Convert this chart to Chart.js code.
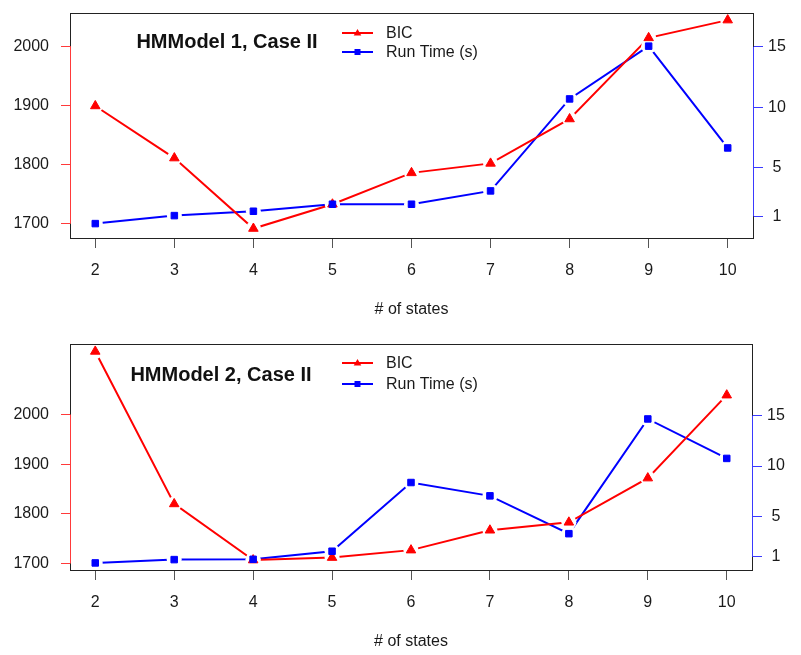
<!DOCTYPE html>
<html>
<head>
<meta charset="utf-8">
<script src="https://cdn.jsdelivr.net/npm/chart.js@4"></script>
<style>
  html, body { margin: 0; padding: 0; background: #fff; }
  .panel { position: absolute; left: 0; width: 801px; }
</style>
</head>
<body>
<div class="panel" style="top:0"><canvas id="chart1" width="801" height="327"></canvas></div>
<div class="panel" style="top:327px"><canvas id="chart2" width="801" height="328"></canvas></div>
<script>
// values
const states = [2, 3, 4, 5, 6, 7, 8, 9, 10];
const bic1 = [1899, 1811, 1692, 1733, 1786, 1802, 1877, 2014, 2044];
const runTime1 = [0.4, 1.06, 1.42, 2.0, 2.0, 3.1, 10.7, 15.06, 6.65];
const bic2 = [2127, 1820, 1707, 1712, 1727, 1767, 1783, 1872, 2039];
const runTime2 = [0.4, 0.73, 0.76, 1.56, 8.37, 7.05, 3.3, 14.67, 10.76];
const bicTicks = [1700, 1800, 1900, 2000];
const timeTicks = [1, 5, 10, 15];
const seriesNames = ['BIC', 'Run Time (s)'];

Chart.defaults.font.family = '"Liberation Sans", Arial, sans-serif';
Chart.defaults.font.size = 16;
Chart.defaults.color = '#1a1a1a';

const RED = '#ff0000';
const BLUE = '#0000ff';

// box, coloured axis lines, title and legend like base R plots
const rPanel = {
  id: 'rPanel',
  afterDatasetsDraw(chart) {
    const ctx = chart.ctx;
    const metas = chart.data.datasets.map((d, i) => chart.getDatasetMeta(i));
    // gaps around the points (type = "b")
    ctx.save();
    ctx.fillStyle = '#fff';
    metas.forEach(meta => {
      meta.data.forEach(pt => {
        ctx.beginPath();
        ctx.arc(pt.x, pt.y, 7.5, 0, Math.PI * 2);
        ctx.fill();
      });
    });
    ctx.restore();
    metas.forEach(meta => {
      meta.data.forEach(pt => pt.draw(ctx, chart.chartArea));
    });
  },
  afterDraw(chart, args, opts) {
    const ctx = chart.ctx;
    const a = chart.chartArea;
    const yL = chart.scales.y;
    const yR = chart.scales.y1;

    ctx.save();
    ctx.strokeStyle = '#222';
    ctx.lineWidth = 1;
    ctx.strokeRect(Math.round(a.left) + 0.5, Math.round(a.top) + 0.5,
      Math.round(a.right - a.left), Math.round(a.bottom - a.top));

    ctx.strokeStyle = '#ff3a3a';
    ctx.beginPath();
    ctx.moveTo(Math.round(a.left) + 0.5, yL.getPixelForValue(bicTicks[0]));
    ctx.lineTo(Math.round(a.left) + 0.5, yL.getPixelForValue(bicTicks[bicTicks.length - 1]));
    ctx.stroke();

    ctx.strokeStyle = '#3a3aff';
    ctx.beginPath();
    ctx.moveTo(Math.round(a.right) + 0.5, yR.getPixelForValue(timeTicks[0]));
    ctx.lineTo(Math.round(a.right) + 0.5, yR.getPixelForValue(timeTicks[timeTicks.length - 1]));
    ctx.stroke();

    // title
    ctx.fillStyle = '#111';
    ctx.font = 'bold 20px "Liberation Sans", Arial, sans-serif';
    ctx.textAlign = 'center';
    ctx.textBaseline = 'middle';
    ctx.fillText(opts.title, opts.titleX, opts.titleY);

    // legend
    ctx.font = '16px "Liberation Sans", Arial, sans-serif';
    ctx.textAlign = 'left';
    chart.data.datasets.forEach((ds, i) => {
      const y = opts.legendY[i];
      ctx.strokeStyle = ds.borderColor;
      ctx.lineWidth = 2;
      ctx.beginPath();
      ctx.moveTo(opts.legendX, y);
      ctx.lineTo(opts.legendX + 31, y);
      ctx.stroke();
      const cx = opts.legendX + 15.5;
      ctx.fillStyle = ds.borderColor;
      ctx.beginPath();
      if (ds.pointStyle === 'triangle') {
        ctx.moveTo(cx, y - 4);
        ctx.lineTo(cx + 3.8, y + 2.4);
        ctx.lineTo(cx - 3.8, y + 2.4);
        ctx.closePath();
      } else {
        ctx.rect(cx - 3, y - 3, 6, 6);
      }
      ctx.fill();
      ctx.fillStyle = '#1a1a1a';
      ctx.fillText(ds.label, opts.legendX + 44, y + 1);
    });
    ctx.restore();
  }
};

const plainNumber = v => String(v);

function makePanel(id, bic, runTime, cfg) {
  const ctx = document.getElementById(id).getContext('2d');
  return new Chart(ctx, {
    type: 'line',
    data: {
      datasets: [
        {
          label: seriesNames[0],
          data: states.map((s, i) => ({ x: s, y: bic[i] })),
          yAxisID: 'y',
          borderColor: RED,
          backgroundColor: RED,
          borderWidth: 2,
          pointStyle: 'triangle',
          pointRadius: 5.5,
          pointBorderWidth: 1,
          pointBorderColor: RED,
          tension: 0
        },
        {
          label: seriesNames[1],
          data: states.map((s, i) => ({ x: s, y: runTime[i] })),
          yAxisID: 'y1',
          borderColor: BLUE,
          backgroundColor: BLUE,
          borderWidth: 2,
          pointStyle: 'rect',
          pointRadius: 4.6,
          pointBorderWidth: 1,
          pointBorderColor: BLUE,
          tension: 0
        }
      ]
    },
    options: {
      responsive: false,
      animation: false,
      events: [],
      layout: { padding: { top: cfg.top, left: 0, right: 0, bottom: 0 } },
      plugins: {
        legend: { display: false },
        tooltip: { enabled: false },
        rPanel: {
          title: cfg.title,
          titleX: cfg.titleX,
          titleY: cfg.titleY,
          legendX: 342,
          legendY: cfg.legendY
        }
      },
      scales: {
        x: {
          type: 'linear',
          min: 1.68,
          max: 10.32,
          afterBuildTicks: s => { s.ticks = states.map(v => ({ value: v })); },
          afterFit: s => { s.height = cfg.xHeight; s.paddingLeft = 0; s.paddingRight = 0; },
          ticks: { padding: 13, color: '#1a1a1a', callback: plainNumber },
          grid: { drawOnChartArea: false, tickLength: 10, tickColor: '#555' },
          border: { display: false },
          title: {
            display: true,
            text: '# of states',
            color: '#1a1a1a',
            font: { size: 16 },
            padding: { top: 0, bottom: cfg.xTitlePad }
          }
        },
        y: {
          position: 'left',
          min: cfg.yMin,
          max: cfg.yMax,
          afterBuildTicks: s => { s.ticks = bicTicks.map(v => ({ value: v })); },
          afterFit: s => { s.width = 70; s.paddingTop = 0; s.paddingBottom = 0; },
          ticks: { padding: 12, color: '#1a1a1a', callback: plainNumber },
          grid: { drawOnChartArea: false, tickLength: 9, tickColor: '#ff3a3a' },
          border: { display: false }
        },
        y1: {
          position: 'right',
          min: cfg.y1Min,
          max: cfg.y1Max,
          afterBuildTicks: s => { s.ticks = timeTicks.map(v => ({ value: v })); },
          afterFit: s => { s.width = cfg.rightWidth; s.paddingTop = 0; s.paddingBottom = 0; },
          ticks: { padding: 5, crossAlign: 'center', color: '#1a1a1a', callback: plainNumber },
          grid: { drawOnChartArea: false, tickLength: 10, tickColor: '#3a3aff' },
          border: { display: false }
        }
      }
    },
    plugins: [rPanel]
  });
}

makePanel('chart1', bic1, runTime1, {
  title: 'HMModel 1, Case II',
  titleX: 227, titleY: 42,
  legendY: [33, 52],
  top: 13, xHeight: 89, xTitlePad: 8, rightWidth: 48,
  yMin: 1676, yMax: 2056, y1Min: -0.79, y1Max: 17.8
});

makePanel('chart2', bic2, runTime2, {
  title: 'HMModel 2, Case II',
  titleX: 221, titleY: 48,
  legendY: [36, 57],
  top: 17, xHeight: 85, xTitlePad: 4, rightWidth: 49,
  yMin: 1687, yMax: 2142, y1Min: -0.3, y1Max: 22.1
});
</script>
</body>
</html>
